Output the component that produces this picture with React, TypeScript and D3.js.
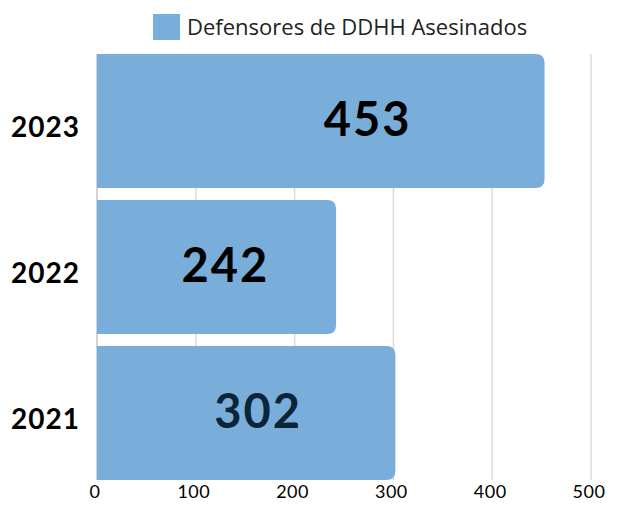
import React, { useEffect, useRef } from "react";
import * as d3 from "d3";

const width = 641;
const height = 509;
const margin = { top: 54, right: 50, bottom: 29, left: 97 };

// data (top to bottom)
const years = ["2023", "2022", "2021"];
const killed = [453, 242, 302];
// where the value labels sit along the bar (in data units)
const labelAt = [274, 130, 163];
const labelColors = ["#000000", "#000000", "#0b2438"];
const xTicks = [0, 100, 200, 300, 400, 500];
const legendLabel = "Defensores de DDHH Asesinados";

const barColor = "#79aedb";
const radius = 9;

// bar with rounded right corners only
const barPath = (x0: number, x1: number, y0: number, h: number) => {
  const r = Math.min(radius, (x1 - x0) / 2, h / 2);
  return `M${x0},${y0}H${x1 - r}Q${x1},${y0} ${x1},${y0 + r}V${y0 + h - r}Q${x1},${y0 + h} ${x1 - r},${y0 + h}H${x0}Z`;
};

const App = () => {
  const gridRef = useRef<SVGGElement>(null);

  const xScale = d3
    .scaleLinear()
    .domain([0, 500])
    .range([margin.left, width - margin.right]);

  const yScale = d3
    .scaleBand()
    .domain(years)
    .range([margin.top, height - margin.bottom])
    .paddingInner(12 / 146)
    .paddingOuter(0);

  const plotTop = margin.top;
  const plotBottom = height - margin.bottom;

  useEffect(() => {
    const g = d3.select(gridRef.current);
    g.selectAll("*").remove();
    g.selectAll("line")
      .data(xTicks)
      .enter()
      .append("line")
      .attr("x1", (d) => xScale(d))
      .attr("x2", (d) => xScale(d))
      .attr("y1", plotTop)
      .attr("y2", plotBottom)
      .attr("stroke", (d) => (d === 0 ? "#c4c4c4" : "#dcdcdc"))
      .attr("stroke-width", 1.5);
  }, []);

  return (
    <svg
      width={width}
      height={height}
      style={{ position: "absolute", left: 0, top: 0, background: "#fff" }}
    >
      {/* legend */}
      <rect x={153} y={14} width={27} height={26} fill={barColor} />
      <text
        x={187}
        y={35}
        fontFamily="'Open Sans', sans-serif"
        fontSize={22}
        fill="#222"
      >
        {legendLabel}
      </text>

      <g ref={gridRef} />

      {years.map((yr, i) => {
        const y0 = yScale(yr) as number;
        const h = yScale.bandwidth();
        return (
          <g key={yr}>
            <path
              d={barPath(xScale(0), xScale(killed[i]), y0, h)}
              fill={barColor}
            />
            <text
              x={xScale(labelAt[i])}
              y={y0 + h / 2 - 2}
              dy="0.36em"
              textAnchor="middle"
              fontFamily="Lato, sans-serif"
              fontWeight="bold"
              fontSize={47}
              letterSpacing={2}
              fill={labelColors[i]}
            >
              {killed[i]}
            </text>
            <text
              x={80}
              y={y0 + h / 2 + 6}
              dy="0.36em"
              textAnchor="end"
              fontFamily="Lato, sans-serif"
              fontWeight="bold"
              fontSize={28}
              letterSpacing={1}
              fill="#000"
            >
              {yr}
            </text>
          </g>
        );
      })}

      {xTicks.map((t) => (
        <text
          key={t}
          x={xScale(t) - 2}
          y={498}
          textAnchor="middle"
          fontFamily="Lato, sans-serif"
          fontSize={18}
          letterSpacing={0.5}
          fill="#000"
        >
          {t}
        </text>
      ))}
    </svg>
  );
};

export default App;
